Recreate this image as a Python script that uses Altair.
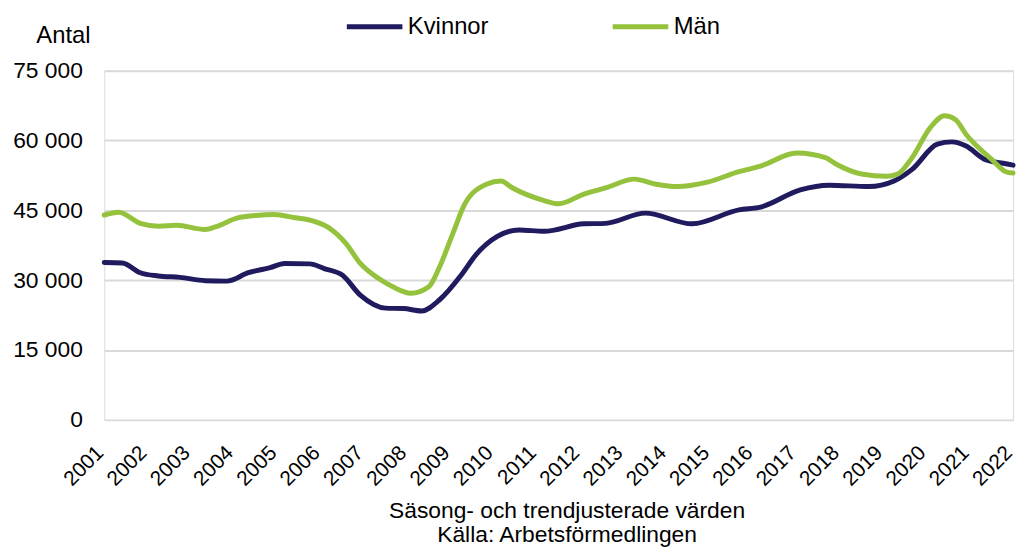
import altair as alt
import pandas as pd

# Kvinnor (women)
kv_month = ["2001-01", "2001-06", "2001-11", "2002-04", "2002-10", "2003-05", "2003-11",
            "2004-05", "2004-11", "2005-03", "2005-10", "2006-02", "2006-07", "2006-12",
            "2007-07", "2007-12", "2008-05", "2008-10", "2009-04", "2009-08", "2010-02",
            "2010-08", "2011-03", "2012-02", "2012-08", "2013-07", "2014-08", "2015-09",
            "2016-03", "2017-02", "2017-10", "2018-09", "2019-04", "2019-09", "2020-04",
            "2020-08", "2020-12", "2021-05", "2021-11", "2022-01"]
kv_val = [33800, 33700, 31600, 30900, 30600, 29900, 29800,
          31600, 32700, 33600, 33500, 32500, 31100, 26800,
          24000, 23900, 23400, 25800, 31100, 35400, 39400,
          40800, 40500, 42100, 42200, 44400, 42100, 45100,
          45700, 49400, 50400, 50100, 51300, 53800, 59200,
          59700, 58800, 56000, 55000, 54700]

# Män (men)
man_month = ["2001-01", "2001-05", "2001-11", "2002-04", "2002-09", "2003-05", "2003-08",
             "2004-02", "2004-07", "2004-12", "2005-06", "2005-11", "2006-03", "2006-08",
             "2006-12", "2007-05", "2007-09", "2008-02", "2008-07", "2008-10", "2009-02",
             "2009-05", "2009-11", "2010-03", "2010-06", "2011-03", "2011-07", "2012-02",
             "2012-08", "2013-04", "2013-10", "2014-04", "2014-12", "2015-09", "2016-03",
             "2017-01", "2017-09", "2017-12", "2018-07", "2019-02", "2019-05", "2019-09",
             "2020-02", "2020-06", "2020-09", "2020-12", "2021-07", "2021-11", "2022-01"]
man_val = [44000, 44600, 42200, 41600, 41800, 40900, 41500,
           43400, 43900, 44100, 43400, 42700, 41400, 37900,
           33600, 30400, 28600, 27200, 28600, 32900, 40700,
           46400, 50600, 51300, 49900, 47100, 46400, 48500,
           49800, 51700, 50600, 50100, 51000, 53300, 54500,
           57300, 56300, 54900, 52800, 52300, 52800, 56300,
           62700, 65300, 64500, 61300, 56000, 53300, 53000]

series = ["Kvinnor", "Män"]
colors = ["#1f1b5e", "#95c23d"]
years = list(range(2001, 2023))
y_ticks = [0, 15000, 30000, 45000, 60000, 75000]
footer = ["Säsong- och trendjusterade värden", "Källa: Arbetsförmedlingen"]


def to_dec(m):
    y, mo = m.split("-")
    return int(y) + (int(mo) - 1) / 12.0


rows = []
for m, v in zip(kv_month, kv_val):
    rows.append({"t": to_dec(m), "value": v, "serie": "Kvinnor"})
for m, v in zip(man_month, man_val):
    rows.append({"t": to_dec(m), "value": v, "serie": "Män"})
df = pd.DataFrame(rows)

FONT = "Liberation Sans"

chart = alt.Chart(df).mark_line(
    interpolate="monotone", strokeWidth=5, strokeCap="round", strokeJoin="round"
).encode(
    x=alt.X(
        "t:Q",
        scale=alt.Scale(domain=[2001, 2022], nice=False, zero=False),
        axis=alt.Axis(
            values=years, format="d", labelAngle=-45, labelAlign="right",
            labelBaseline="alphabetic", labelPadding=34, labelFontSize=21,
            labelColor="#000000", labelFont=FONT, ticks=False, domain=False,
            grid=False, labelOverlap=False, labelBound=False, labelFlush=False,
            title=footer, titleFont=FONT, titleFontSize=23, titleFontWeight="normal",
            titleColor="#000000", titleLineHeight=25, titleAlign="center",
            titleBaseline="alphabetic", titleX=466, titleY=98,
        ),
    ),
    y=alt.Y(
        "value:Q",
        scale=alt.Scale(domain=[0, 75000], nice=False),
        axis=alt.Axis(
            values=y_ticks, labelExpr="replace(format(datum.value, ','), ',', ' ')",
            labelFontSize=23, labelColor="#000000", labelFont=FONT, labelPadding=22,
            ticks=False, domain=False, grid=True, gridColor="#d9d9d9", gridWidth=2,
            title="Antal", titleAngle=0, titleAlign="left", titleBaseline="middle",
            titleX=-69, titleY=-35, titleFont=FONT, titleFontSize=24,
            titleFontWeight="normal", titleColor="#000000",
        ),
    ),
    color=alt.Color(
        "serie:N",
        scale=alt.Scale(domain=series, range=colors),
        sort=series,
        legend=alt.Legend(
            title=None, orient="none", legendX=242, legendY=-75, direction="horizontal",
            symbolType="stroke", symbolSize=3136, symbolStrokeWidth=5,
            labelFontSize=24, labelFont=FONT, labelColor="#000000", labelOffset=3,
            columnPadding=114, padding=0,
        ),
    ),
).properties(
    width=916,
    height=352,
    autosize=alt.AutoSizeParams(type="none"),
    padding={"left": 97, "top": 61, "right": 7, "bottom": 129},
).configure_view(stroke=None).configure(font=FONT)

chart.save("out.html", embed_options={"renderer": "svg", "actions": False})
